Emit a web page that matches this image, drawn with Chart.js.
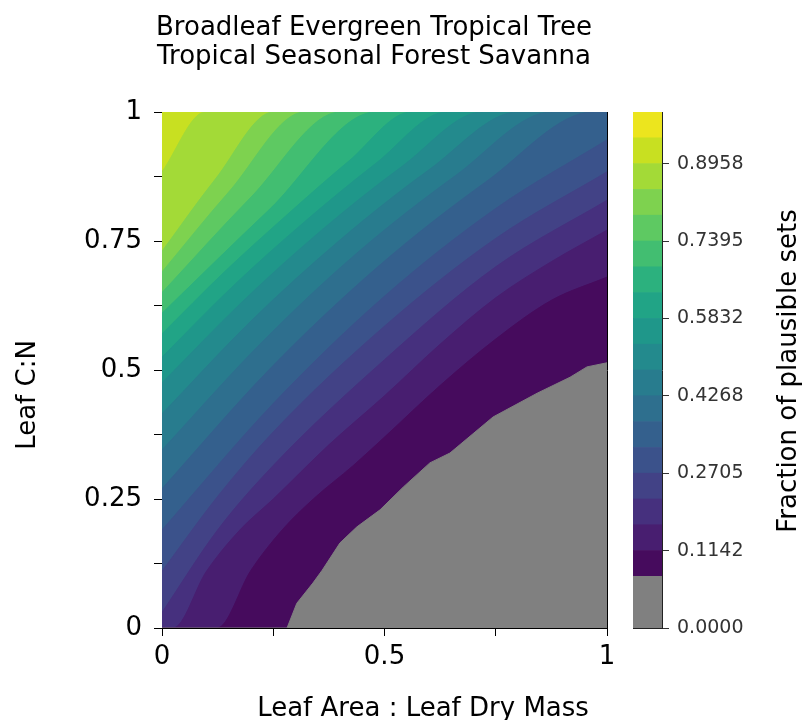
<!DOCTYPE html>
<html>
<head>
<meta charset="utf-8">
<title>Broadleaf Evergreen Tropical Tree - Tropical Seasonal Forest Savanna</title>
<script src="https://cdn.jsdelivr.net/npm/chart.js@4.4.0/dist/chart.umd.min.js"></script>
<style>
  html, body { margin: 0; padding: 0; background: #fff; }
  #wrap { position: relative; width: 804px; height: 720px; }
  #wrap canvas { position: absolute; left: 0; top: 0; width: 804px; height: 720px; }
</style>
</head>
<body>
<div id="wrap">
  <canvas id="contourChart" width="804" height="720"></canvas>
  <canvas id="colorbarChart" width="804" height="720"></canvas>
</div>
<script>
// --- texts ---
const titleLines = ['Broadleaf Evergreen Tropical Tree', 'Tropical Seasonal Forest Savanna'];
const xAxisLabel = 'Leaf Area : Leaf Dry Mass';
const yAxisLabel = 'Leaf C:N';
const colorbarLabel = 'Fraction of plausible sets';

// --- axis ticks ---
const xTicks = [0, 0.25, 0.5, 0.75, 1];
const xTickLabels = ['0', '', '0.5', '', '1'];
const yTicks = [0, 0.125, 0.25, 0.375, 0.5, 0.625, 0.75, 0.875, 1];
const yTickLabels = ['0', '', '0.25', '', '0.5', '', '0.75', '', '1'];

// --- contour levels (values below the first level are grey) ---
const levels = [0.0621, 0.1142, 0.1663, 0.2184, 0.2705, 0.3226, 0.3747, 0.4268, 0.4789, 0.5311,
                0.5832, 0.6353, 0.6874, 0.7395, 0.7916, 0.8437, 0.8958, 0.9479, 1.0000];
const cbarTickLabels = ['0.0000', '0.1142', '0.2705', '0.4268', '0.5832', '0.7395', '0.8958'];
// viridis sampled at the middle of each band
const bandColors = ['#460b5d', '#481e70', '#46307e', '#424286', '#3b528b', '#34608d', '#2e6f8e', '#287c8e', '#238a8d',
                    '#1f978a', '#21a486', '#2cb17e', '#42be71', '#5ec962', '#7ed24f', '#a3da37', '#c8e021', '#ece51e'];
const belowColor = '#808080';

// --- contour lines [x, y], one per level ---
const line00 = [[0.281, 0], [0.303, 0.048], [0.339, 0.087], [0.36, 0.112], [0.40, 0.165], [0.438, 0.196], [0.49, 0.229],
                [0.542, 0.273], [0.602, 0.32], [0.647, 0.339], [0.744, 0.409], [0.843, 0.455], [0.917, 0.486], [0.955, 0.506], [1, 0.514]];
const line01 = [[0.124, 0], [0.2, 0.112], [0.27, 0.19], [0.34, 0.25], [0.43, 0.315], [0.5, 0.37], [0.625, 0.47], [0.75, 0.56], [0.875, 0.635], [1, 0.68]];
const line02 = [[0.025, 0], [0.1, 0.11], [0.175, 0.19], [0.25, 0.25], [0.375, 0.355], [0.5, 0.45], [0.625, 0.55], [0.75, 0.64], [0.875, 0.71], [1, 0.771]];
const line03 = [[0, 0.03], [0.125, 0.19], [0.25, 0.315], [0.5, 0.52], [0.75, 0.7], [1, 0.829]];
const line04 = [[0, 0.11], [0.125, 0.255], [0.25, 0.38], [0.5, 0.585], [0.75, 0.755], [1, 0.884]];
const line05 = [[0, 0.19], [0.25, 0.435], [0.5, 0.643], [0.75, 0.813], [1, 0.946]];
const line06 = [[0, 0.27], [0.24, 0.5], [0.485, 0.7], [0.73, 0.866], [0.969, 1]];
const line07 = [[0, 0.345], [0.22, 0.55], [0.44, 0.728], [0.66, 0.877], [0.876, 1]];
const line08 = [[0, 0.415], [0.2, 0.595], [0.4, 0.752], [0.6, 0.888], [0.8, 1]];
const line09 = [[0, 0.475], [0.18, 0.632], [0.36, 0.772], [0.54, 0.895], [0.72, 1]];
const line10 = [[0, 0.525], [0.16, 0.663], [0.32, 0.787], [0.48, 0.9], [0.64, 1]];
const line11 = [[0, 0.57], [0.14, 0.69], [0.28, 0.8], [0.42, 0.905], [0.56, 1]];
const line12 = [[0, 0.61], [0.24, 0.81], [0.48, 1]];
const line13 = [[0, 0.65], [0.2, 0.835], [0.4, 1]];
const line14 = [[0, 0.69], [0.15, 0.845], [0.32, 1]];
const line15 = [[0, 0.73], [0.12, 0.87], [0.25, 1]];
const line16 = [[0, 0.884], [0.097, 1]];

const contourLines = [line00, line01, line02, line03, line04, line05, line06, line07, line08,
                      line09, line10, line11, line12, line13, line14, line15, line16];

const FONT = '"DejaVu Sans", Verdana, sans-serif';
Chart.defaults.font.family = FONT;
Chart.defaults.color = '#000';

// close a contour line along the plot edges so it can be filled downward
const toPoints = line => {
    const pts = line.map(([x, y]) => ({ x, y }));
    if (pts[0].x > 0) pts.unshift({ x: 0, y: 0 });
    if (pts[pts.length - 1].x < 1) pts.push({ x: 1, y: 1 });
    return pts;
};

// each level fills everything below it; lower levels are drawn on top
const contourSets = contourLines.map((line, k) => {
    const color = k === 0 ? belowColor : bandColors[k - 1];
    return {
        label: k === 0 ? '< ' + levels[0] : levels[k - 1] + ' - ' + levels[k],
        data: toPoints(line),
        xAxisID: 'x',
        yAxisID: 'y',
        fill: 'start',
        backgroundColor: color,
        borderColor: color,
        borderWidth: 1,
        pointRadius: 0,
        cubicInterpolationMode: k === 0 ? 'default' : 'monotone',
        tension: 0,
        order: k
    };
});
const topLine = contourLines[contourLines.length - 1];
contourSets.push({
    label: levels[16] + ' - ' + levels[17],
    data: toPoints(topLine),
    xAxisID: 'x',
    yAxisID: 'y',
    fill: 'end',
    backgroundColor: bandColors[16],
    borderColor: bandColors[16],
    borderWidth: 1,
    pointRadius: 0,
    order: contourLines.length
});

const figureText = {
    id: 'figureText',
    afterDraw(chart) {
        const ctx = chart.ctx;
        ctx.save();
        ctx.fillStyle = '#000';
        ctx.font = '26px ' + FONT;
        ctx.textAlign = 'center';
        ctx.textBaseline = 'alphabetic';
        titleLines.forEach((t, i) => ctx.fillText(t, 374, 35 + i * 29));
        ctx.fillText(xAxisLabel, 423, 716);
        ctx.translate(35, 395);
        ctx.rotate(-Math.PI / 2);
        ctx.fillText(yAxisLabel, 0, 0);
        ctx.restore();
    }
};

const edgeAxis = (position, horizontal, color) => ({
    type: 'linear', position, min: 0, max: 1, display: true,
    ticks: { display: false },
    grid: { display: false, drawTicks: false },
    border: { display: true, color, width: 1 },
    afterFit: s => { if (horizontal) s.height = 0; else s.width = 0; }
});

new Chart(document.getElementById('contourChart'), {
    type: 'line',
    data: { datasets: contourSets },
    options: {
        responsive: false,
        animation: false,
        events: [],
        layout: { autoPadding: false, padding: { left: 0, top: 112, right: 197, bottom: 0 } },
        scales: {
            x: {
                type: 'linear', position: 'bottom', min: 0, max: 1,
                afterBuildTicks: s => { s.ticks = xTicks.map(v => ({ value: v })); },
                afterFit: s => { s.height = 92; },
                ticks: { autoSkip: false, maxRotation: 0, padding: 6, font: { size: 26 }, color: '#000',
                         callback: (v, i) => xTickLabels[i] },
                grid: { drawOnChartArea: false, tickLength: 8, color: '#000', lineWidth: 1 },
                border: { display: true, color: '#000', width: 1 }
            },
            y: {
                type: 'linear', position: 'left', min: 0, max: 1,
                afterBuildTicks: s => { s.ticks = yTicks.map(v => ({ value: v })); },
                afterFit: s => { s.width = 162; },
                ticks: { autoSkip: false, padding: 12, font: { size: 26 }, color: '#000',
                         callback: (v, i) => yTickLabels[i] },
                grid: { drawOnChartArea: false, tickLength: 8, color: '#000', lineWidth: 1 },
                border: { display: true, color: '#000', width: 1 }
            },
            xTop: edgeAxis('top', true, '#000'),
            yRight: edgeAxis('right', false, '#000')
        },
        plugins: { legend: { display: false }, tooltip: { enabled: false }, title: { display: false } }
    },
    plugins: [figureText]
});

// --- colour bar: one floating bar per band, uniform spacing, grey band twice as tall ---
const cbarSets = [{ data: [[-2, 0]], backgroundColor: belowColor }]
    .concat(bandColors.map((c, k) => ({ data: [[k, k + 1]], backgroundColor: c })))
    .map(ds => Object.assign(ds, { xAxisID: 'x', yAxisID: 'y' }));
const cbarTickPos = cbarTickLabels.map(l => {
    const v = parseFloat(l);
    return v === 0 ? -2 : levels.findIndex(L => Math.abs(L - v) < 5e-4);
});

const colorbarText = {
    id: 'colorbarText',
    afterDraw(chart) {
        const ctx = chart.ctx;
        ctx.save();
        ctx.fillStyle = '#000';
        ctx.font = '26px ' + FONT;
        ctx.textAlign = 'center';
        ctx.textBaseline = 'alphabetic';
        ctx.translate(796, 371);
        ctx.rotate(-Math.PI / 2);
        ctx.fillText(colorbarLabel, 0, 0);
        ctx.restore();
    }
};

new Chart(document.getElementById('colorbarChart'), {
    type: 'bar',
    data: { labels: [''], datasets: cbarSets },
    options: {
        responsive: false,
        animation: false,
        events: [],
        layout: { autoPadding: false, padding: { left: 633, top: 112, right: 0, bottom: 92 } },
        datasets: { bar: { barPercentage: 1, categoryPercentage: 1, grouped: false, borderWidth: 0 } },
        scales: {
            x: {
                type: 'category', position: 'bottom',
                ticks: { display: false },
                grid: { display: false, drawTicks: false },
                border: { display: true, color: '#222', width: 1 },
                afterFit: s => { s.height = 0; }
            },
            y: {
                type: 'linear', position: 'right', min: -2, max: 18,
                afterBuildTicks: s => { s.ticks = cbarTickPos.map(v => ({ value: v })); },
                afterFit: s => { s.width = 142; },
                ticks: { autoSkip: false, padding: 8, font: { size: 19 }, color: '#333',
                         callback: (v, i) => cbarTickLabels[i] },
                grid: { drawOnChartArea: false, tickLength: 7, color: '#333', lineWidth: 1 },
                border: { display: true, color: '#222', width: 1 }
            },
            xTop: edgeAxis('top', true, '#222'),
            yLeft: edgeAxis('left', false, '#222')
        },
        plugins: { legend: { display: false }, tooltip: { enabled: false } }
    },
    plugins: [colorbarText]
});
</script>
</body>
</html>
